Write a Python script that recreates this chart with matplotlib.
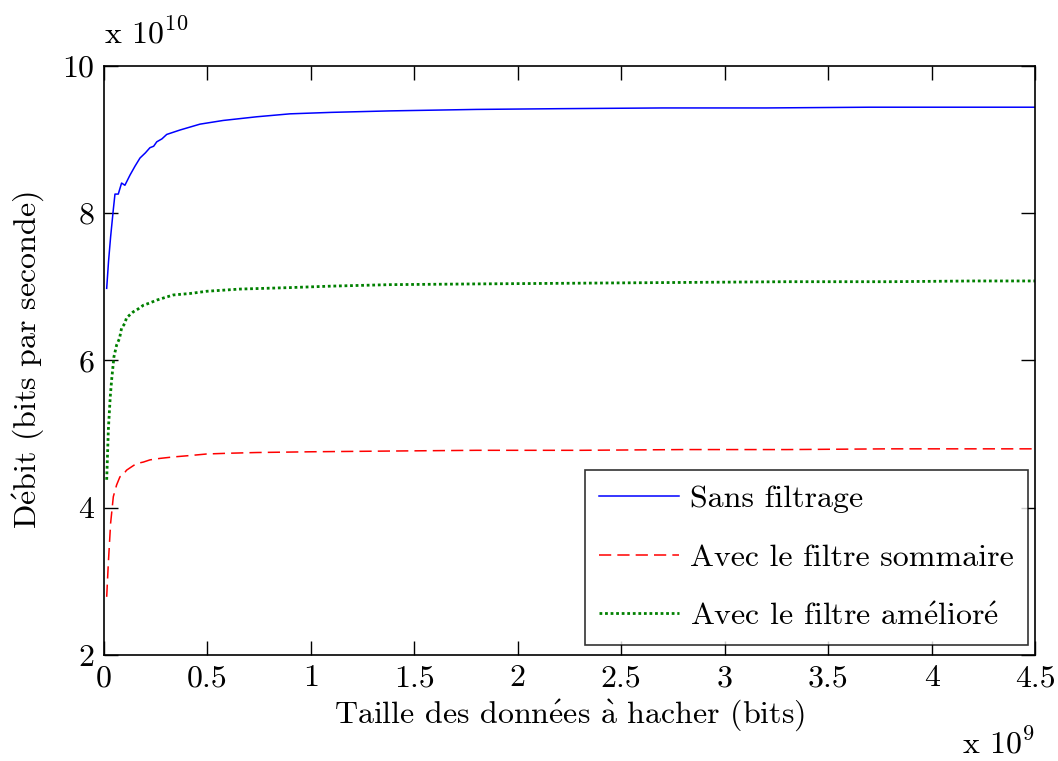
import matplotlib
matplotlib.use("Agg")
import matplotlib.pyplot as plt
from matplotlib.ticker import FixedLocator, FixedFormatter

plt.rcParams['font.family'] = ['cmr10', 'DejaVu Serif']
plt.rcParams['mathtext.fontset'] = 'cm'
plt.rcParams['axes.unicode_minus'] = False

# x in units of 1e9 bits, y in units of 1e10 bits/s
x_blue = [0.013, 0.022, 0.032, 0.045, 0.053, 0.069, 0.085, 0.101, 0.126, 0.15, 0.174, 0.2, 0.222, 0.24, 0.255,
          0.28, 0.303, 0.367, 0.464, 0.576, 0.738, 0.899, 1.1, 1.382, 1.8, 2.2, 2.7, 3.2, 3.7, 4.2, 4.5]
y_blue = [6.98, 7.35, 7.68, 8.05, 8.26, 8.26, 8.41, 8.38, 8.52, 8.64, 8.75, 8.82, 8.89, 8.91, 8.97,
          9.01, 9.07, 9.13, 9.21, 9.26, 9.31, 9.35, 9.37, 9.39, 9.41, 9.42, 9.43, 9.43, 9.44, 9.44, 9.44]

x_red = [0.013, 0.021, 0.032, 0.045, 0.061, 0.077, 0.09, 0.109, 0.13, 0.157, 0.19, 0.222, 0.27, 0.335, 0.42,
         0.496, 0.6, 0.738, 1.0, 1.382, 1.8, 2.3, 2.8, 3.3, 3.8, 4.2, 4.5]
y_red = [2.79, 3.25, 3.79, 4.15, 4.31, 4.42, 4.44, 4.51, 4.55, 4.60, 4.62, 4.65, 4.67, 4.69, 4.71,
         4.73, 4.74, 4.75, 4.76, 4.77, 4.78, 4.78, 4.79, 4.79, 4.80, 4.80, 4.80]

x_green = [0.013, 0.021, 0.03, 0.037, 0.048, 0.061, 0.075, 0.085, 0.1, 0.109, 0.125, 0.141, 0.165, 0.19,
           0.22, 0.255, 0.3, 0.335, 0.416, 0.496, 0.657, 0.899, 1.1, 1.382, 1.8, 2.3, 2.8, 3.3, 3.8, 4.2, 4.5]
y_green = [4.38, 5.06, 5.5, 5.74, 6.05, 6.21, 6.30, 6.44, 6.50, 6.58, 6.62, 6.66, 6.70, 6.75,
           6.78, 6.82, 6.86, 6.89, 6.91, 6.94, 6.97, 6.99, 7.01, 7.03, 7.04, 7.05, 7.06, 7.07, 7.07, 7.08, 7.08]

labels = ["Sans filtrage", "Avec le filtre sommaire", r"Avec le filtre am$\acute{\mathrm{e}}$lior$\acute{\mathrm{e}}$"]
x_ticks = [0, 0.5, 1, 1.5, 2, 2.5, 3, 3.5, 4, 4.5]
x_ticklabels = ["0", "0.5", "1", "1.5", "2", "2.5", "3", "3.5", "4", "4.5"]
y_ticks = [2, 4, 6, 8, 10]
y_ticklabels = ["2", "4", "6", "8", "10"]

FS = 23

fig = plt.figure(figsize=(10.58, 7.61), dpi=100)
ax = fig.add_axes([0.0983, 0.1393, 0.88, 0.774])

ax.plot(x_blue, y_blue, color='#0000ff', lw=1.1, label=labels[0])
ax.plot(x_red, y_red, color='#ff0000', lw=1.1, ls=(0, (8, 4)), label=labels[1])
ax.plot(x_green, y_green, color='#008000', lw=2.0, ls=(0, (1, 1)), label=labels[2])

ax.set_xlim(0, 4.5)
ax.set_ylim(2, 10)
ax.xaxis.set_major_locator(FixedLocator(x_ticks))
ax.xaxis.set_major_formatter(FixedFormatter(x_ticklabels))
ax.yaxis.set_major_locator(FixedLocator(y_ticks))
ax.yaxis.set_major_formatter(FixedFormatter(y_ticklabels))
ax.tick_params(direction='in', length=10, width=1, top=True, right=True, labelsize=FS, pad=7)
for s in ax.spines.values():
    s.set_linewidth(1.2)

ax.set_xlabel(r"Taille des donn$\acute{\mathrm{e}}$es $\grave{\mathrm{a}}$ hacher (bits)", fontsize=FS, labelpad=4)
ax.set_ylabel(r"D$\acute{\mathrm{e}}$bit (bits par seconde)", fontsize=FS, labelpad=12)

fig.text(0.0983, 0.935, r"x 10$^{10}$", fontsize=FS, ha='left', va='bottom')
fig.text(0.9783, 0.003, r"x 10$^{9}$", fontsize=FS, ha='right', va='bottom')

leg = ax.legend(loc='lower right', fontsize=FS, frameon=True, fancybox=False, edgecolor='black',
                handlelength=2.5, handletextpad=0.35, labelspacing=0.95, borderpad=0.45,
                borderaxespad=0, bbox_to_anchor=(0.9925, 0.017))
leg.get_frame().set_linewidth(1.2)

fig.savefig("out.png", dpi=100)
